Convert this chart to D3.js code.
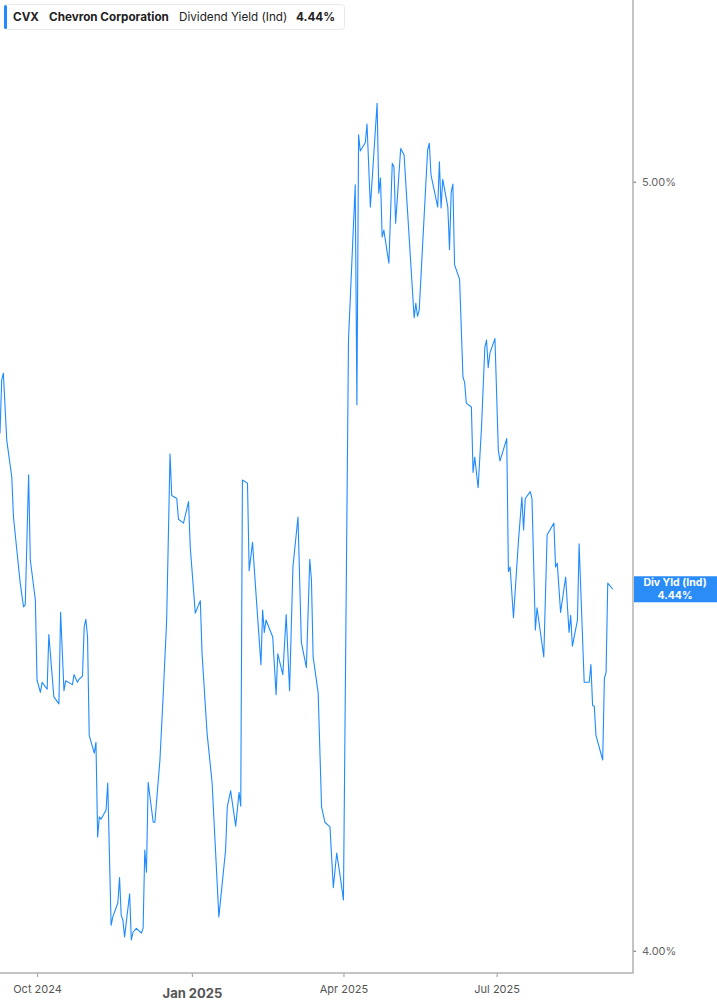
<!DOCTYPE html>
<html>
<head>
<meta charset="utf-8">
<script src="https://cdn.jsdelivr.net/npm/d3@7"></script>
<style>
  html, body { margin: 0; padding: 0; background: #fff; }
  svg { display: block; font-family: Inter, "Noto Sans", sans-serif; }
</style>
</head>
<body>
<svg id="chart" width="717" height="1005"></svg>
<script>
// ---- data ----
const dates = [
"2024-09-09","2024-09-10","2024-09-11","2024-09-13","2024-09-16","2024-09-17","2024-09-19","2024-09-21","2024-09-23","2024-09-24",
"2024-09-26","2024-09-27","2024-09-30","2024-10-01","2024-10-03","2024-10-04","2024-10-07","2024-10-08","2024-10-11","2024-10-14",
"2024-10-15","2024-10-17","2024-10-18","2024-10-22","2024-10-23","2024-10-25","2024-10-26","2024-10-28","2024-10-29","2024-10-30",
"2024-10-31","2024-11-01","2024-11-04","2024-11-05","2024-11-06","2024-11-07","2024-11-08","2024-11-11","2024-11-12","2024-11-14",
"2024-11-15","2024-11-18","2024-11-19","2024-11-20","2024-11-21","2024-11-22","2024-11-25","2024-11-26","2024-11-27","2024-11-29",
"2024-12-02","2024-12-03","2024-12-04","2024-12-05","2024-12-06","2024-12-09","2024-12-10","2024-12-13","2024-12-15","2024-12-17",
"2024-12-19","2024-12-20","2024-12-23","2024-12-24","2024-12-27","2024-12-30","2024-12-31","2025-01-03","2025-01-06","2025-01-07",
"2025-01-10","2025-01-13","2025-01-17","2025-01-21","2025-01-22","2025-01-24","2025-01-27","2025-01-29","2025-01-30","2025-01-31",
"2025-02-03","2025-02-04","2025-02-06","2025-02-08","2025-02-11","2025-02-12","2025-02-13","2025-02-14","2025-02-18","2025-02-20",
"2025-02-21","2025-02-24","2025-02-26","2025-02-28","2025-03-02","2025-03-05","2025-03-07","2025-03-10","2025-03-12","2025-03-13",
"2025-03-14","2025-03-17","2025-03-19","2025-03-21","2025-03-24","2025-03-26","2025-03-28","2025-03-30","2025-04-01","2025-04-04",
"2025-04-08","2025-04-09","2025-04-10","2025-04-11","2025-04-14","2025-04-15","2025-04-17","2025-04-21","2025-04-22","2025-04-23",
"2025-04-24","2025-04-25","2025-04-28","2025-04-30","2025-05-01","2025-05-02","2025-05-05","2025-05-07","2025-05-13","2025-05-14",
"2025-05-15","2025-05-16","2025-05-21","2025-05-22","2025-05-23","2025-05-27","2025-05-28","2025-05-29","2025-05-30","2025-06-02",
"2025-06-03","2025-06-04","2025-06-05","2025-06-06","2025-06-09","2025-06-11","2025-06-12","2025-06-13","2025-06-16","2025-06-17",
"2025-06-18","2025-06-20","2025-06-22","2025-06-24","2025-06-25","2025-06-26","2025-06-27","2025-06-30","2025-07-02","2025-07-03",
"2025-07-07","2025-07-08","2025-07-09","2025-07-11","2025-07-14","2025-07-16","2025-07-17","2025-07-18","2025-07-21","2025-07-22",
"2025-07-24","2025-07-25","2025-07-29","2025-07-31","2025-08-04","2025-08-05","2025-08-06","2025-08-08","2025-08-11","2025-08-13",
"2025-08-14","2025-08-15","2025-08-18","2025-08-19","2025-08-22","2025-08-25","2025-08-26","2025-08-27","2025-08-28","2025-08-29",
"2025-09-02","2025-09-03","2025-09-04","2025-09-05","2025-09-08"
];
const yields = [
4.673,4.742,4.751,4.664,4.616,4.564,4.521,4.478,4.447,4.450,
4.619,4.508,4.456,4.352,4.336,4.349,4.340,4.411,4.330,4.321,
4.440,4.338,4.351,4.346,4.359,4.349,4.353,4.357,4.421,4.431,
4.408,4.280,4.257,4.271,4.148,4.174,4.171,4.183,4.218,4.033,
4.044,4.062,4.095,4.046,4.040,4.018,4.074,4.014,4.024,4.029,
4.023,4.029,4.131,4.102,4.219,4.167,4.167,4.248,4.335,4.430,
4.646,4.592,4.588,4.561,4.556,4.584,4.525,4.439,4.455,4.387,
4.283,4.218,4.044,4.131,4.187,4.208,4.162,4.206,4.188,4.612,
4.608,4.494,4.531,4.466,4.372,4.443,4.414,4.430,4.408,4.333,
4.386,4.359,4.437,4.338,4.499,4.564,4.401,4.368,4.509,4.482,
4.382,4.335,4.187,4.167,4.161,4.082,4.127,4.098,4.066,4.794,
4.996,4.710,5.061,5.040,5.051,5.075,4.967,5.102,4.985,5.005,
4.928,4.937,4.894,5.024,5.019,4.946,5.043,5.035,4.823,4.842,
4.825,4.833,5.041,5.050,5.009,4.967,5.026,4.966,5.003,4.967,
4.912,4.986,4.997,4.892,4.873,4.746,4.739,4.712,4.707,4.622,
4.642,4.602,4.680,4.785,4.794,4.758,4.777,4.796,4.651,4.637,
4.666,4.493,4.499,4.433,4.534,4.590,4.547,4.588,4.597,4.588,
4.417,4.446,4.382,4.541,4.556,4.499,4.504,4.440,4.486,4.414,
4.436,4.396,4.430,4.529,4.349,4.349,4.372,4.319,4.318,4.280,
4.248,4.354,4.362,4.478,4.470
];
const yTicks = [4.0, 5.0];
const xTickDates = ["2024-10-01","2025-01-01","2025-04-01","2025-07-01"];
const xTickLabels = ["Oct 2024","Jan 2025","Apr 2025","Jul 2025"];
const xDomain = ["2024-09-09","2025-09-20"];
const header = { ticker: "CVX", name: "Chevron Corporation", metric: "Dividend Yield (Ind)", value: "4.44%" };
const badge = { title: "Div Yld (Ind)", value: "4.44%" };

// ---- chart ----
const parse = d3.utcParse("%Y-%m-%d");
const data = dates.map((d, i) => ({ date: parse(d), v: yields[i] }));
const svg = d3.select("#chart");
const plotRight = 633, plotBottom = 973;
const blue = "#1f8bff";

const x = d3.scaleUtc().domain(xDomain.map(parse)).range([0, plotRight]);
const y = d3.scaleLinear().domain([4, 5]).range([950.7, 181.7]);

// line
const line = d3.line().x(d => x(d.date)).y(d => y(d.v));
svg.append("path").datum(data)
  .attr("fill", "none").attr("stroke", blue).attr("stroke-width", 1.1)
  .attr("stroke-linejoin", "round")
  .attr("d", line);

// right axis
const yAxis = d3.axisRight(y).tickValues(yTicks).tickSize(3).tickPadding(6)
  .tickFormat(d => d.toFixed(2) + "%");
const gy = svg.append("g").attr("transform", `translate(${plotRight},0)`).call(yAxis);
gy.select(".domain").remove();
gy.selectAll(".tick line").attr("stroke", "#666").attr("stroke-width", 1);
gy.selectAll(".tick text").attr("fill", "#666").attr("font-size", 11)
  .attr("font-family", "Inter, sans-serif");

// bottom axis
const xAxis = d3.axisBottom(x).tickValues(xTickDates.map(parse)).tickSize(4).tickPadding(8)
  .tickFormat((d, i) => xTickLabels[i]);
const gx = svg.append("g").attr("transform", `translate(0,${plotBottom})`).call(xAxis);
gx.select(".domain").remove();
gx.selectAll(".tick line").attr("stroke", "#aaa").attr("stroke-width", 1.2);
gx.selectAll(".tick text").attr("fill", "#555").attr("font-size", 11)
  .attr("font-family", "Inter, sans-serif");
gx.selectAll(".tick text").filter((d, i) => i === 1)
  .attr("font-size", 13).attr("font-weight", 700).attr("fill", "#555").attr("dy", "1.0em");

// axis frame lines
svg.append("line").attr("x1", 0).attr("x2", plotRight + 0.5).attr("y1", plotBottom).attr("y2", plotBottom)
  .attr("stroke", "#b0b0b0").attr("stroke-width", 1.5);
svg.append("line").attr("x1", plotRight).attr("x2", plotRight).attr("y1", 0).attr("y2", plotBottom)
  .attr("stroke", "#b0b0b0").attr("stroke-width", 1.5);

// header legend box
const hg = svg.append("g");
hg.append("rect").attr("x", 4.5).attr("y", 4.5).attr("width", 340).attr("height", 25).attr("rx", 3)
  .attr("fill", "#fff").attr("stroke", "#e8e8e8");
hg.append("rect").attr("x", 4).attr("y", 5).attr("width", 3).attr("height", 24).attr("rx", 1.5).attr("fill", blue);
const ht = [
  { t: header.ticker, x: 13, w: 700 },
  { t: header.name, x: 49, w: 700 },
  { t: header.metric, x: 179, w: 400 },
  { t: header.value, x: 296, w: 700 }
];
hg.selectAll("text").data(ht).join("text")
  .attr("x", d => d.x).attr("y", 21).attr("font-size", 11.7).attr("font-weight", d => d.w)
  .attr("fill", "#222").text(d => d.t);

// last value badge
const last = data[data.length - 1];
const by = y(last.v);
const bg = svg.append("g");
bg.append("rect").attr("x", plotRight + 1).attr("y", by - 13).attr("width", 717 - plotRight - 1).attr("height", 26)
  .attr("fill", "#2a8cf7");
bg.append("text").attr("x", 675).attr("y", by - 2.8).attr("text-anchor", "middle")
  .attr("font-size", 10.5).attr("font-weight", 700).attr("fill", "#fff").text(badge.title);
bg.append("text").attr("x", 675).attr("y", by + 10.2).attr("text-anchor", "middle")
  .attr("font-size", 10.5).attr("font-weight", 700).attr("fill", "#fff").text(badge.value);
</script>
</body>
</html>
